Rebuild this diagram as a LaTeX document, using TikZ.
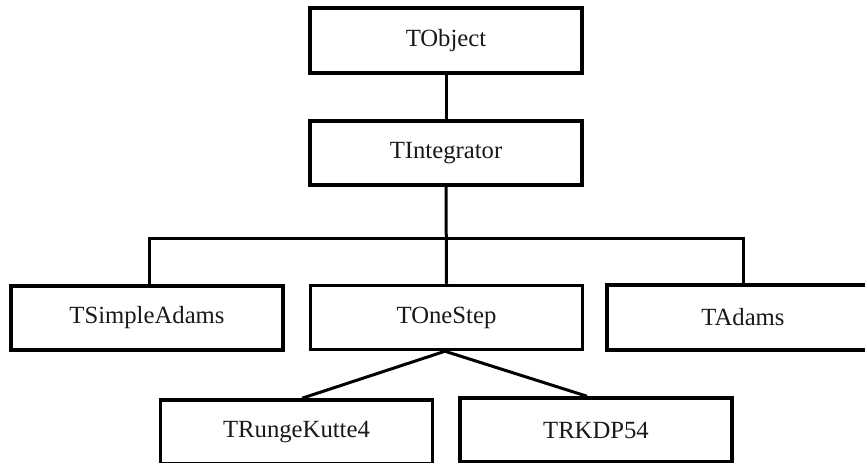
\documentclass[tikz,border=0pt]{standalone}
\usepackage{fontspec}
\setmainfont{Liberation Serif}
\begin{document}
\begin{tikzpicture}[x=1pt,y=-1pt,
  cls/.style={draw=black, line width=3.5pt, minimum width=272pt, minimum height=64pt,
    inner sep=0pt, font=\fontsize{24.7}{29}\selectfont, text=black!90},
  link/.style={line width=3pt, draw=black}]
\clip (0,0) rectangle (865,463);
\fill[white] (0,0) rectangle (865,463);
\node[cls, minimum height=65pt] (TObject) at (446,40.5) {TObject};
\node[cls] (TIntegrator) at (446,153) {TIntegrator};
\node[cls] (TSimpleAdams) at (147,318) {TSimpleAdams};
\node[cls] (TOneStep) at (446.5,317.5) {TOneStep};
\node[cls, minimum height=65pt] (TAdams) at (743,317.5) {TAdams};
\node[cls] (TRungeKutte4) at (296.5,432) {TRungeKutte4};
\node[cls] (TRKDP54) at (596,430) {TRKDP54};
\coordinate (bus) at (447,238);
\draw[link] (TObject) -- (TIntegrator);
\draw[link] (TIntegrator.south) -- (TOneStep.north);
\draw[link] ([xshift=2pt]TSimpleAdams.north) |- (bus) -| (TAdams.north);
\draw[link] ([xshift=-1.5pt]TOneStep.south) -- ([xshift=5.5pt]TRungeKutte4.north);
\draw[link] ([xshift=-1.5pt]TOneStep.south) -- ([xshift=-9pt]TRKDP54.north);
\end{tikzpicture}
\end{document}
